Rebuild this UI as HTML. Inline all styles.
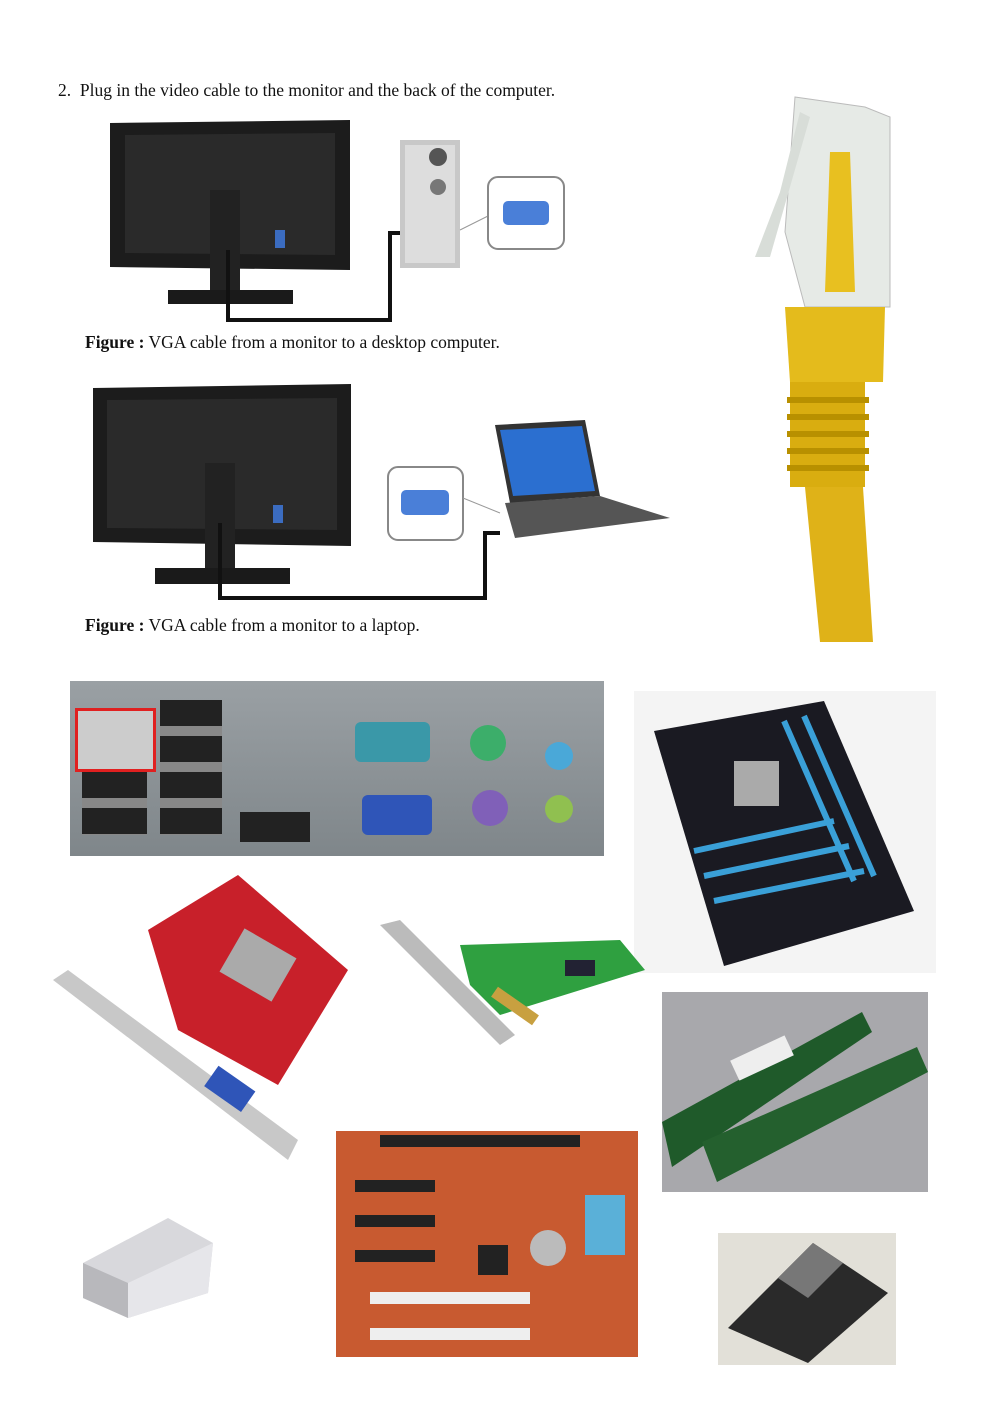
<!DOCTYPE html>
<html><head><meta charset="utf-8"><style>
body{margin:0;width:1000px;height:1415px;background:#fff;position:relative;overflow:hidden;font-family:"Liberation Serif",serif;}
.a{position:absolute;}
.t{position:absolute;font-size:17.5px;color:#111;white-space:nowrap;}
</style></head><body>
<div class="t" style="left:58px;top:80px;">2.&nbsp;&nbsp;Plug in the video cable to the monitor and the back of the computer.</div>

<!-- figure 1 -->
<svg class="a" style="left:100px;top:115px" width="480" height="210">
<polygon points="10,8 250,5 250,155 10,152" fill="#1c1c1c"/>
<polygon points="25,20 235,18 235,140 25,138" fill="#2a2a2a"/>
<rect x="110" y="75" width="30" height="105" fill="#222"/>
<rect x="68" y="175" width="125" height="14" fill="#1a1a1a"/>
<rect x="175" y="115" width="10" height="18" fill="#3b6cc0"/>
<path d="M128 135 V205 H290 V118 H302" stroke="#111" stroke-width="4" fill="none"/>
<rect x="300" y="25" width="60" height="128" fill="#c8c8c8"/>
<rect x="305" y="30" width="50" height="118" fill="#ddd"/>
<circle cx="338" cy="42" r="9" fill="#555"/><circle cx="338" cy="72" r="8" fill="#777"/>
<line x1="360" y1="115" x2="390" y2="100" stroke="#999"/>
<rect x="388" y="62" width="76" height="72" rx="10" fill="#fff" stroke="#888" stroke-width="2"/>
<rect x="403" y="86" width="46" height="24" rx="5" fill="#4a7fd8"/>
</svg>
<div class="t" style="left:85px;top:332px;"><b>Figure :</b> VGA cable from a monitor to a desktop computer.</div>

<!-- figure 2 -->
<svg class="a" style="left:85px;top:378px" width="600" height="230">
<polygon points="8,10 266,6 266,168 8,164" fill="#1c1c1c"/>
<polygon points="22,22 252,20 252,152 22,150" fill="#2a2a2a"/>
<rect x="120" y="85" width="30" height="110" fill="#222"/>
<rect x="70" y="190" width="135" height="16" fill="#1a1a1a"/>
<rect x="188" y="127" width="10" height="18" fill="#3b6cc0"/>
<path d="M135 145 V220 H400 V155 H415" stroke="#111" stroke-width="4" fill="none"/>
<rect x="303" y="89" width="75" height="73" rx="10" fill="#fff" stroke="#888" stroke-width="2"/>
<rect x="316" y="112" width="48" height="25" rx="5" fill="#4a7fd8"/>
<line x1="378" y1="120" x2="415" y2="135" stroke="#999"/>
<polygon points="410,47 500,42 515,118 425,125" fill="#333"/>
<polygon points="415,52 497,48 510,113 428,118" fill="#2b6fd0"/>
<polygon points="420,125 515,118 585,140 430,160" fill="#555"/>
</svg>
<div class="t" style="left:85px;top:615px;"><b>Figure :</b> VGA cable from a monitor to a laptop.</div>

<!-- ethernet cable -->
<svg class="a" style="left:745px;top:92px" width="150" height="550">
<polygon points="50,5 120,15 145,25 145,215 60,215 40,140" fill="#e6eae6" stroke="#bbb"/>
<polygon points="35,100 55,20 65,25 25,165 10,165" fill="#d8ddd8"/>
<polygon points="85,60 105,60 110,200 80,200" fill="#e8c020"/>
<polygon points="40,215 140,215 138,290 45,290" fill="#e4bb1c"/>
<rect x="45" y="290" width="75" height="105" fill="#d9ad10"/>
<g fill="#b89000"><rect x="42" y="305" width="82" height="6"/><rect x="42" y="322" width="82" height="6"/><rect x="42" y="339" width="82" height="6"/><rect x="42" y="356" width="82" height="6"/><rect x="42" y="373" width="82" height="6"/></g>
<polygon points="60,395 118,395 128,550 75,550" fill="#dfb218"/>
</svg>

<!-- back panel -->
<div class="a" style="left:70px;top:681px;width:534px;height:175px;background:linear-gradient(#9aa0a4,#7f868a);"></div>
<div class="a" style="left:75px;top:708px;width:75px;height:58px;border:3px solid #e02020;background:#ccc;"></div>
<div class="a" style="left:160px;top:700px;width:62px;height:135px;background:repeating-linear-gradient(#222 0 26px,#888 26px 36px);"></div>
<div class="a" style="left:82px;top:772px;width:65px;height:63px;background:repeating-linear-gradient(#222 0 26px,#888 26px 36px);"></div>
<div class="a" style="left:355px;top:722px;width:75px;height:40px;background:#3a98a8;border-radius:6px;"></div>
<div class="a" style="left:362px;top:795px;width:70px;height:40px;background:#2f55b8;border-radius:6px;"></div>
<div class="a" style="left:470px;top:725px;width:36px;height:36px;border-radius:50%;background:#3cae6a;"></div>
<div class="a" style="left:472px;top:790px;width:36px;height:36px;border-radius:50%;background:#8060b8;"></div>
<div class="a" style="left:545px;top:742px;width:28px;height:28px;border-radius:50%;background:#4aa8d8;"></div>
<div class="a" style="left:545px;top:795px;width:28px;height:28px;border-radius:50%;background:#90c050;"></div>
<div class="a" style="left:240px;top:812px;width:70px;height:30px;background:#222;"></div>

<!-- asus motherboard -->
<svg class="a" style="left:634px;top:691px" width="302" height="282">
<rect width="302" height="282" fill="#f4f4f4"/>
<polygon points="20,40 190,10 280,220 90,275" fill="#1a1a22"/>
<g stroke="#3aa0d8" stroke-width="6"><line x1="150" y1="30" x2="220" y2="190"/><line x1="170" y1="25" x2="240" y2="185"/><line x1="60" y1="160" x2="200" y2="130"/><line x1="70" y1="185" x2="215" y2="155"/><line x1="80" y1="210" x2="230" y2="180"/></g>
<rect x="100" y="70" width="45" height="45" fill="#aaa"/>
</svg>

<!-- graphics card -->
<svg class="a" style="left:48px;top:870px" width="305" height="295">
<polygon points="100,60 190,5 300,100 230,215 130,160" fill="#c8202a"/>
<polygon points="5,110 20,100 250,270 240,290" fill="#c8c8c8"/>
<rect x="180" y="70" width="60" height="50" fill="#aaa" transform="rotate(30 210 95)"/>
<rect x="160" y="205" width="45" height="25" fill="#2f55b8" transform="rotate(35 180 217)"/>
</svg>

<!-- sound card -->
<svg class="a" style="left:380px;top:915px" width="270" height="132">
<polygon points="80,30 240,25 265,55 120,100 90,70" fill="#2fa040"/>
<polygon points="0,10 20,5 135,120 120,130" fill="#bbb"/>
<rect x="185" y="45" width="30" height="16" fill="#223"/>
<rect x="110" y="85" width="50" height="12" fill="#c8a040" transform="rotate(35 135 91)"/>
</svg>

<!-- ram -->
<svg class="a" style="left:662px;top:992px" width="266" height="200">
<rect width="266" height="200" fill="#a8a8ac"/>
<polygon points="0,130 200,20 210,40 10,175" fill="#1f5a2a"/>
<polygon points="40,150 255,55 266,80 55,190" fill="#24602e"/>
<rect x="70" y="55" width="60" height="22" fill="#eee" transform="rotate(-25 100 66)"/>
</svg>

<!-- floppy drive -->
<svg class="a" style="left:78px;top:1213px" width="140" height="110">
<polygon points="5,50 90,5 135,30 130,80 50,105 5,85" fill="#d8d8dc"/>
<polygon points="5,50 50,70 50,105 5,85" fill="#b8b8bc"/>
<polygon points="50,70 135,30 130,80 50,105" fill="#e6e6ea"/>
</svg>

<!-- orange motherboard -->
<div class="a" style="left:336px;top:1131px;width:302px;height:226px;background:#c85a30;"></div>
<div class="a" style="left:380px;top:1135px;width:200px;height:12px;background:#222;"></div>
<div class="a" style="left:355px;top:1180px;width:80px;height:12px;background:#222;"></div>
<div class="a" style="left:355px;top:1215px;width:80px;height:12px;background:#222;"></div>
<div class="a" style="left:355px;top:1250px;width:80px;height:12px;background:#222;"></div>
<div class="a" style="left:370px;top:1292px;width:160px;height:12px;background:#eee;"></div>
<div class="a" style="left:370px;top:1328px;width:160px;height:12px;background:#eee;"></div>
<div class="a" style="left:585px;top:1195px;width:40px;height:60px;background:#5ab0d8;"></div>
<div class="a" style="left:478px;top:1245px;width:30px;height:30px;background:#222;"></div>
<div class="a" style="left:530px;top:1230px;width:36px;height:36px;border-radius:50%;background:#bbb;"></div>

<!-- floppy disk -->
<svg class="a" style="left:718px;top:1233px" width="178" height="132">
<rect width="178" height="132" fill="#e2e0d8"/>
<polygon points="10,95 95,10 170,60 90,130" fill="#2a2a2a"/>
<polygon points="60,45 95,10 125,30 90,65" fill="#777"/>
</svg>
</body></html>
